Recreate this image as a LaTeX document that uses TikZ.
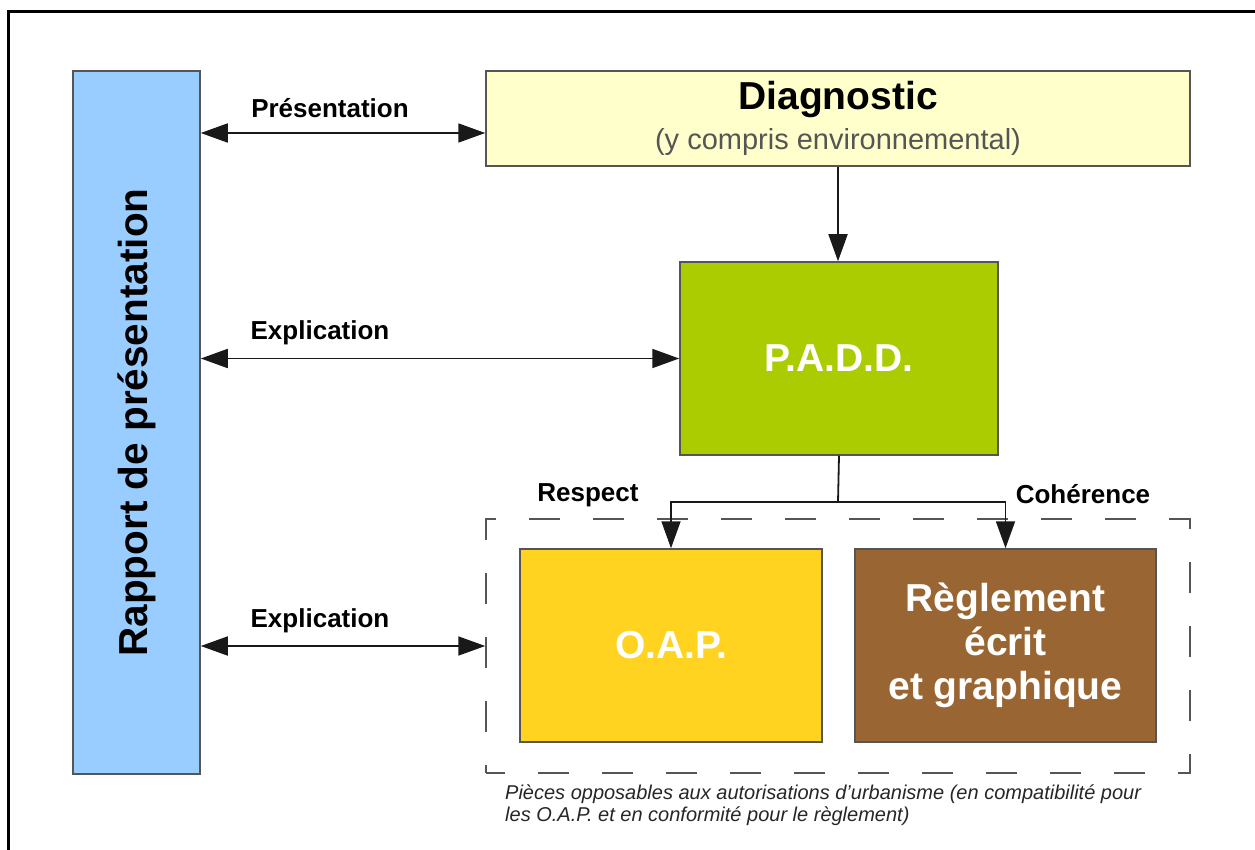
\documentclass[tikz,border=0pt]{standalone}
\usepackage{fontspec}
\usepackage{graphicx}
\setmainfont{Liberation Sans}
\usetikzlibrary{arrows.meta}
\definecolor{rapblue}{HTML}{99CCFF}
\definecolor{diagyellow}{HTML}{FFFFCC}
\definecolor{paddgreen}{HTML}{AACC00}
\definecolor{oapgold}{HTML}{FFD320}
\definecolor{reglbrown}{HTML}{996633}
\definecolor{boxline}{HTML}{555555}
\definecolor{subgray}{HTML}{555555}
\begin{document}
\begin{tikzpicture}[x=1pt,y=-1pt,
  box/.style={draw=boxline, line width=1.5pt, inner sep=0pt, align=center},
  whitetext/.style={text=white, font=\fontsize{39}{44}\selectfont\bfseries},
  conn/.style={line width=1.8pt, draw=black!90},
  arr/.style={conn, -{Triangle[length=27pt,width=19pt]}},
  darr/.style={conn, {Triangle[length=27pt,width=19pt]}-{Triangle[length=27pt,width=19pt]}},
  lab/.style={font=\fontsize{26}{30}\selectfont\bfseries, inner sep=0pt},
]
\useasboundingbox (0,0) rectangle (1255,850);
% frame (top and left edges)
\draw[line width=3pt] (8,850) -- (8,12) -- (1255,12);

\node[box, fill=rapblue, minimum width=127pt, minimum height=703pt] (rapport) at (136.5,422.5)
  {\rotatebox{90}{\fontsize{40.5}{44}\selectfont\bfseries Rapport de présentation}};
\node[box, fill=diagyellow, minimum width=704pt, minimum height=95pt] (diag) at (838,118.5)
  {\raisebox{-5pt}{\fontsize{39}{42}\selectfont\bfseries Diagnostic}\\[9pt]{\fontsize{29}{32}\selectfont\color{subgray}(y compris environnemental)}};
\node[box, fill=paddgreen, minimum width=318pt, minimum height=193pt, whitetext] (padd) at (839,358.5) {P.A.D.D.};
\node[draw=boxline, line width=1.5pt, dash pattern=on 31pt off 33pt, dash phase=12pt, minimum width=704pt, minimum height=254pt, inner sep=0pt] (opp) at (838,646) {};
\node[box, fill=oapgold, minimum width=302pt, minimum height=193pt, whitetext] (oap) at (671,645.5) {O.A.P.};
\node[box, fill=reglbrown, minimum width=301pt, minimum height=193pt, whitetext, font=\fontsize{39}{44}\selectfont\bfseries] (regl) at (1005.5,645.5) {Règlement\\écrit\\et graphique};

\coordinate (y1) at (0,133);
\coordinate (split) at (838,502);

\draw[darr] (rapport.east |- y1) -- (diag.west |- y1);
\draw[darr] (rapport.east |- padd.west) -- (padd.west);
\draw[darr] (rapport.east |- opp.west) -- (opp.west);
\draw[arr] (diag.south) -- (diag.south |- padd.north);
\draw[conn] (padd.south) -- (split);
\draw[arr] (split) -| (oap.north);
\draw[arr] (split) -| (regl.north);

\node[lab] (lpres) at (330,108) {Présentation};
\node[lab] (lexp1) at (320,333) {Explication};
\node[lab] (lexp2) at (320,621) {Explication};
\node[lab] (lresp) at (588,495) {Respect};
\node[lab] (lcoh) at (1083,494) {Cohérence};

\node[anchor=north west, inner sep=0pt, align=left, text=black!85, font=\fontsize{20}{22}\selectfont\itshape] (caption) at (505,785)
  {Pièces opposables aux autorisations d'urbanisme (en compatibilité pour\\les O.A.P. et en conformité pour le règlement)};
\end{tikzpicture}
\end{document}
